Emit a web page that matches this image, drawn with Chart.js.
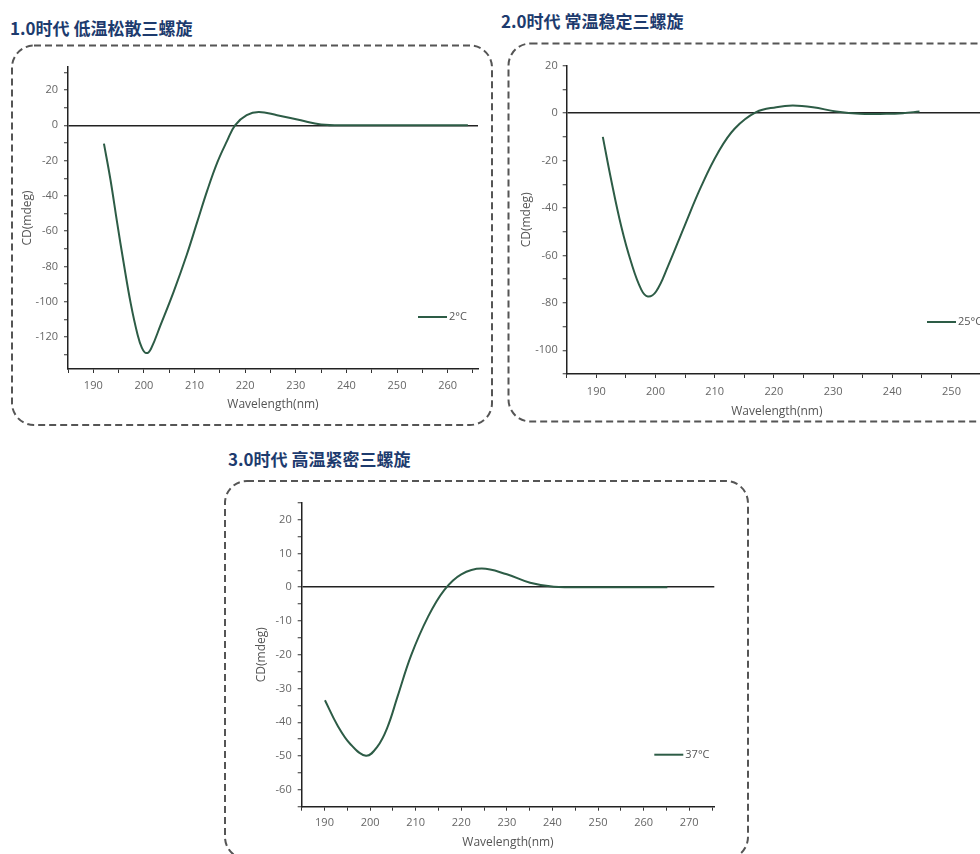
<!DOCTYPE html>
<html>
<head>
<meta charset="utf-8">
<script src="https://cdn.jsdelivr.net/npm/chart.js@4.4.1/dist/chart.umd.min.js"></script>
<style>
  html, body { margin: 0; padding: 0; background: #fff; }
  body { width: 980px; height: 854px; position: relative; overflow: hidden; font-family: "Noto Sans CJK SC", sans-serif; }
  .title { position: absolute; font-size: 17px; font-weight: bold; color: #1d3b6e; line-height: 20px; white-space: nowrap; }
  canvas { position: absolute; }
  svg { position: absolute; left: 0; top: 0; }
</style>
</head>
<body>
<svg width="1100" height="900">
  <g fill="none" stroke="#555" stroke-width="2" stroke-dasharray="7 4">
    <rect x="12" y="45.5" width="480" height="379.5" rx="22" ry="22"/>
    <rect x="508.5" y="43.5" width="500" height="378" rx="22" ry="22"/>
    <rect x="225" y="481" width="523" height="378" rx="22" ry="22"/>
  </g>
</svg>
<div class="title" style="left:10px;top:18px">1.0时代 低温松散三螺旋</div>
<div class="title" style="left:501px;top:11px">2.0时代 常温稳定三螺旋</div>
<div class="title" style="left:228px;top:449px">3.0时代 高温紧密三螺旋</div>
<canvas id="c1" width="480" height="380" style="left:12px;top:45px"></canvas>
<canvas id="c2" width="500" height="379" style="left:508px;top:43px"></canvas>
<canvas id="c3" width="523" height="379" style="left:225px;top:481px"></canvas>
<script>
// CD spectra, wavelength (nm) vs CD (mdeg)
const wl1 = [192.1, 193.4, 194.7, 196, 197.4, 198.7, 199.6, 200.5, 201.4, 203.3, 205.9, 208.5, 210.5, 212.5, 214.5, 216.4, 218, 220.3, 222.7, 226.3, 231, 235, 240, 250, 264];
const cd1 = [-10.4, -31, -55, -78, -101, -118, -126, -129, -126.5, -113, -94, -73, -55, -37, -21, -9, 0, 5.7, 7.5, 5.7, 2.8, 0.5, 0, 0, 0];

const wl2 = [191.1, 192.5, 194.2, 195.9, 197.6, 198.7, 200.1, 202.1, 204.9, 207.7, 210.6, 213.4, 217, 220.4, 223.2, 226.6, 230.5, 234.5, 239, 241.8, 244.6];
const cd2 = [-10, -28, -47.6, -63, -74.4, -77.3, -75.2, -64.6, -47.6, -31, -16.5, -6.5, 0.4, 2.5, 3.2, 2.5, 0.7, -0.3, -0.3, 0, 0.7];

const wl3 = [190.1, 192.8, 195.7, 199.1, 201.6, 203.8, 206, 209, 212.7, 216.3, 220, 224.5, 230, 235.1, 240.3, 245, 255, 265.2];
const cd3 = [-33.5, -40.8, -46.5, -49.9, -47.2, -41.5, -32.5, -20.2, -8.8, -0.8, 3.8, 5.5, 3.8, 1.3, 0.1, 0, 0, 0];

const labels = ['2°C', '25°C', '37°C'];

const lineColor = '#2d5c46';
const tickFont = { family: 'Open Sans', size: 11 };
const titleFont = { family: 'Open Sans', size: 12 };

// legend drawn inside the plot, bottom right
const insideLegend = {
  id: 'insideLegend',
  afterDatasetsDraw(chart) {
    const { ctx, chartArea } = chart;
    const ds = chart.data.datasets[0];
    const y = chartArea.bottom - 52;
    const x0 = chartArea.right - 60;
    ctx.save();
    ctx.strokeStyle = ds.borderColor;
    ctx.lineWidth = 2;
    ctx.beginPath();
    ctx.moveTo(x0, y);
    ctx.lineTo(x0 + 29, y);
    ctx.stroke();
    ctx.fillStyle = '#555';
    ctx.font = '11px "Open Sans"';
    ctx.textBaseline = 'middle';
    ctx.fillText(ds.label, x0 + 31, y);
    ctx.restore();
  }
};

function makeChart(id, o) {
  return new Chart(document.getElementById(id), {
    type: 'line',
    data: {
      datasets: [{
        label: o.label,
        data: o.xs.map((x, i) => ({ x: x, y: o.ys[i] })),
        borderColor: lineColor,
        borderWidth: 2,
        pointRadius: 0,
        tension: 0.4,
        fill: false
      }]
    },
    options: {
      responsive: false,
      animation: false,
      layout: { padding: { top: o.padTop, right: o.padRight, left: 0, bottom: 0 } },
      plugins: { legend: { display: false }, tooltip: { enabled: false } },
      scales: {
        x: {
          type: 'linear',
          min: o.xMin,
          max: o.xMax,
          ticks: {
            stepSize: 5,
            autoSkip: false,
            includeBounds: false,
            maxRotation: 0,
            padding: o.xPad,
            color: '#666',
            font: tickFont,
            callback: v => (v % 10 === 0 ? v : '')
          },
          grid: { drawOnChartArea: false, tickLength: 4, tickColor: '#333', tickWidth: 1 },
          border: { color: '#222', width: 1.5 },
          title: { display: true, text: 'Wavelength(nm)', color: '#555', font: titleFont, padding: { top: 0, bottom: o.xTitlePad } },
          afterFit: s => { s.height = o.xHeight; }
        },
        y: {
          min: o.yMin,
          max: o.yMax,
          ticks: {
            stepSize: o.yStep,
            autoSkip: false,
            includeBounds: false,
            padding: o.yPad,
            color: '#666',
            font: tickFont,
            callback: v => (v % o.yLabelEvery === 0 ? v : '')
          },
          grid: {
            color: c => (c.tick && c.tick.value === 0 ? '#222' : 'rgba(0,0,0,0)'),
            lineWidth: 1.5,
            tickLength: 4,
            tickColor: '#333',
            tickWidth: 1
          },
          border: { color: '#222', width: 1.5 },
          title: { display: true, text: 'CD(mdeg)', color: '#555', font: titleFont, padding: { top: o.yTitlePad, bottom: 0 } },
          afterFit: s => { s.width = o.yWidth; }
        }
      }
    },
    plugins: [insideLegend]
  });
}

makeChart('c1', {
  label: labels[0], xs: wl1, ys: cd1,
  xMin: 185, xMax: 266, yMin: -138, yMax: 33, yStep: 10, yLabelEvery: 20,
  padTop: 22, padRight: 14, yWidth: 56, xHeight: 56,
  xPad: 6, yPad: 6, xTitlePad: 12.8, yTitlePad: 8.8
});

makeChart('c2', {
  label: labels[1], xs: wl2, ys: cd2,
  xMin: 185, xMax: 256, yMin: -110, yMax: 20, yStep: 10, yLabelEvery: 20,
  padTop: 22.7, padRight: 21, yWidth: 58.7, xHeight: 48,
  xPad: 7, yPad: 5, xTitlePad: 2.8, yTitlePad: 11.5
});

makeChart('c3', {
  label: labels[2], xs: wl3, ys: cd3,
  xMin: 185, xMax: 275.5, yMin: -65, yMax: 25, yStep: 5, yLabelEvery: 10,
  padTop: 21.7, padRight: 33.7, yWidth: 76.7, xHeight: 53.3,
  xPad: 6, yPad: 6, xTitlePad: 9.8, yTitlePad: 29.5
});
</script>
</body>
</html>
